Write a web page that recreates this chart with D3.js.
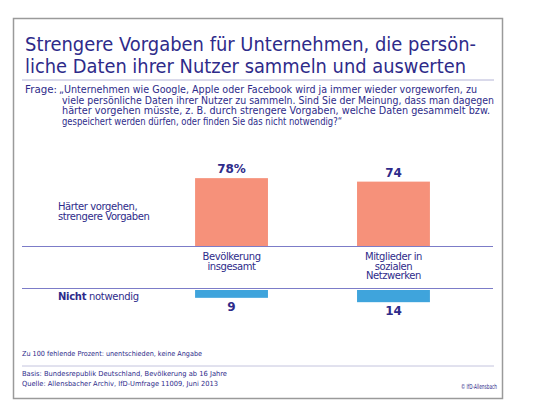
<!DOCTYPE html>
<html>
<head>
<meta charset="utf-8">
<script src="https://cdn.jsdelivr.net/npm/d3@7/dist/d3.min.js"></script>
<style>
  body { margin: 0; background: #fff; }
  text { font-family: "DejaVu Sans", sans-serif; fill: #2e2b8a; }
</style>
</head>
<body>
<svg id="svg1" width="540" height="414"></svg>
<script>
// data
var categories = ["Bevölkerung insgesamt", "Mitglieder in sozialen Netzwerken"];
var catLines = [["Bevölkerung", "insgesamt"], ["Mitglieder in", "sozialen", "Netzwerken"]];
var harter = [78, 74];          // Härter vorgehen, strengere Vorgaben
var nicht = [9, 14];            // Nicht notwendig
var harterLabels = ["78%", "74"];
var nichtLabels = ["9", "14"];

var titleLines = ["Strengere Vorgaben für Unternehmen, die persön-",
                  "liche Daten ihrer Nutzer sammeln und auswerten"];
var questionLines = ["„Unternehmen wie Google, Apple oder Facebook wird ja immer wieder vorgeworfen, zu",
                     "viele persönliche Daten ihrer Nutzer zu sammeln. Sind Sie der Meinung, dass man dagegen",
                     "härter vorgehen müsste, z. B. durch strengere Vorgaben, welche Daten gesammelt bzw.",
                     "gespeichert werden dürfen, oder finden Sie das nicht notwendig?“"];
var questionWidths = [418, 432, 428, 280];   // widths measured on the picture

var svg = d3.select("#svg1");

// frame
svg.append("rect")
    .attr("x", 13.5).attr("y", 18.5)
    .attr("width", 489).attr("height", 380)
    .attr("fill", "#fff")
    .attr("stroke", "#9a9a9a").attr("stroke-width", 1.5);

// title
svg.selectAll("text.title")
    .data(titleLines)
    .enter()
    .append("text")
    .attr("class", "title")
    .attr("x", 25)
    .attr("y", function(d, i) { return 51 + i * 22; })
    .attr("font-size", 19)
    .attr("textLength", function(d, i) { return i == 0 ? 451 : 441; })
    .attr("lengthAdjust", "spacingAndGlyphs")
    .text(function(d) { return d; });

svg.append("line")
    .attr("x1", 22).attr("x2", 494).attr("y1", 80).attr("y2", 80)
    .attr("stroke", "#b4b4d6").attr("stroke-width", 1);

// question
svg.append("text")
    .attr("x", 25).attr("y", 93)
    .attr("font-size", 10)
    .attr("textLength", 32).attr("lengthAdjust", "spacingAndGlyphs")
    .text("Frage:");

svg.selectAll("text.question")
    .data(questionLines)
    .enter()
    .append("text")
    .attr("class", "question")
    .attr("x", function(d, i) { return i == 0 ? 59 : 62; })
    .attr("y", function(d, i) { return 93 + i * 10.5; })
    .attr("font-size", 10)
    .attr("textLength", function(d, i) { return questionWidths[i]; })
    .attr("lengthAdjust", "spacingAndGlyphs")
    .text(function(d) { return d; });

// scales
var x = d3.scaleBand()
    .domain(categories)
    .range([106, 519])
    .paddingInner(0.55)
    .paddingOuter(0.55);

var h = d3.scaleLinear().domain([0, 100]).range([0, 87]);

var baseTop = 246;     // baseline of the orange bars
var baseBottom = 290;  // top of the blue bars

// orange bars
svg.selectAll("rect.harter")
    .data(harter)
    .enter()
    .append("rect")
    .attr("class", "harter")
    .attr("x", function(d, i) { return x(categories[i]); })
    .attr("width", x.bandwidth())
    .attr("y", function(d) { return baseTop - h(d); })
    .attr("height", function(d) { return h(d); })
    .attr("fill", "#f6917a");

svg.selectAll("text.harterVal")
    .data(harter)
    .enter()
    .append("text")
    .attr("class", "harterVal")
    .attr("x", function(d, i) { return x(categories[i]) + x.bandwidth() / 2; })
    .attr("y", function(d) { return baseTop - h(d) - 5; })
    .attr("text-anchor", "middle")
    .attr("font-size", 12).attr("font-weight", "bold")
    .text(function(d, i) { return harterLabels[i]; });

// blue bars
svg.selectAll("rect.nicht")
    .data(nicht)
    .enter()
    .append("rect")
    .attr("class", "nicht")
    .attr("x", function(d, i) { return x(categories[i]); })
    .attr("width", x.bandwidth())
    .attr("y", baseBottom)
    .attr("height", function(d) { return h(d); })
    .attr("fill", "#3fa4dc");

svg.selectAll("text.nichtVal")
    .data(nicht)
    .enter()
    .append("text")
    .attr("class", "nichtVal")
    .attr("x", function(d, i) { return x(categories[i]) + x.bandwidth() / 2; })
    .attr("y", function(d) { return baseBottom + h(d) + 13; })
    .attr("text-anchor", "middle")
    .attr("font-size", 12).attr("font-weight", "bold")
    .text(function(d, i) { return nichtLabels[i]; });

// axis lines
[baseTop, baseBottom - 2].forEach(function(yy) {
    svg.append("line")
        .attr("x1", 22).attr("x2", 493).attr("y1", yy + 0.5).attr("y2", yy + 0.5)
        .attr("stroke", "#7c7cc8").attr("stroke-width", 1.2);
});

// category labels
catLines.forEach(function(lines, i) {
    var cx = x(categories[i]) + x.bandwidth() / 2;
    svg.append("text")
        .attr("x", cx).attr("y", 260)
        .attr("text-anchor", "middle")
        .attr("font-size", 10).attr("letter-spacing", -0.4)
        .selectAll("tspan")
        .data(lines)
        .enter()
        .append("tspan")
        .attr("x", cx)
        .attr("dy", function(d, j) { return j == 0 ? 0 : 9.5; })
        .text(function(d) { return d; });
});

// series labels on the left
svg.append("text")
    .attr("x", 58).attr("y", 210)
    .attr("font-size", 10).attr("letter-spacing", -0.4)
    .text("Härter vorgehen,");
svg.append("text")
    .attr("x", 58).attr("y", 219.5)
    .attr("font-size", 10).attr("letter-spacing", -0.4)
    .text("strengere Vorgaben");

var nt = svg.append("text")
    .attr("x", 58).attr("y", 300)
    .attr("font-size", 10).attr("letter-spacing", -0.3);
nt.append("tspan").attr("font-weight", "bold").text("Nicht");
nt.append("tspan").text(" notwendig");

// footer
svg.append("text")
    .attr("x", 22).attr("y", 356)
    .attr("font-size", 7)
    .attr("textLength", 180).attr("lengthAdjust", "spacingAndGlyphs")
    .text("Zu 100 fehlende Prozent: unentschieden, keine Angabe");

svg.append("line")
    .attr("x1", 22).attr("x2", 494).attr("y1", 366).attr("y2", 366)
    .attr("stroke", "#c4c4de").attr("stroke-width", 1);

svg.append("text")
    .attr("x", 22).attr("y", 376)
    .attr("font-size", 7)
    .attr("textLength", 205).attr("lengthAdjust", "spacingAndGlyphs")
    .text("Basis: Bundesrepublik Deutschland, Bevölkerung ab 16 Jahre");

svg.append("text")
    .attr("x", 22).attr("y", 386)
    .attr("font-size", 7)
    .attr("textLength", 196).attr("lengthAdjust", "spacingAndGlyphs")
    .text("Quelle: Allensbacher Archiv, IfD-Umfrage 11009, Juni 2013");

svg.append("text")
    .attr("x", 497).attr("y", 389)
    .attr("text-anchor", "end")
    .attr("font-size", 7)
    .attr("textLength", 36).attr("lengthAdjust", "spacingAndGlyphs")
    .text("© IfD-Allensbach");
</script>
</body>
</html>
